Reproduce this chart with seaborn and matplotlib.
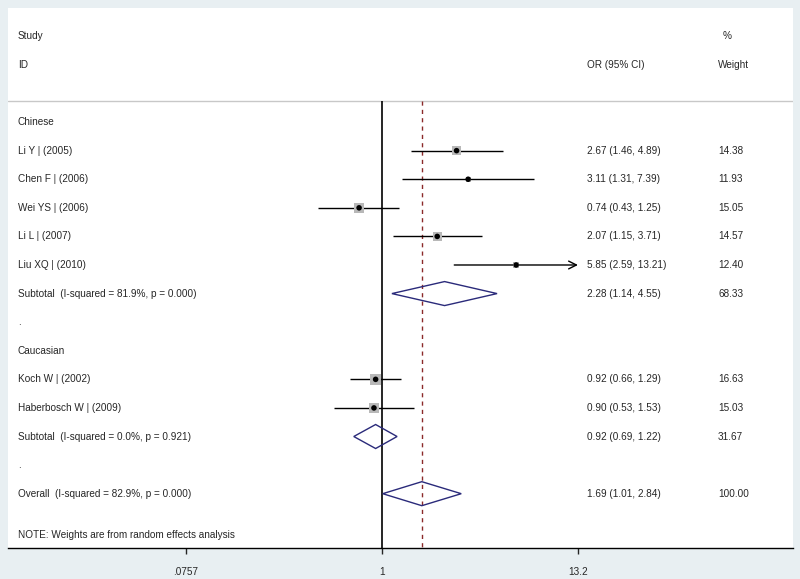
import matplotlib
matplotlib.use("Agg")
import matplotlib.pyplot as plt
import seaborn as sns
import numpy as np
import pandas as pd

# study-level data
studies = ["Li Y", "Chen F", "Wei YS", "Li L", "Liu XQ", "Koch W", "Haberbosch W"]
years = [2005, 2006, 2006, 2007, 2010, 2002, 2009]
odds = [2.67, 3.11, 0.74, 2.07, 5.85, 0.92, 0.90]
ci_lo = [1.46, 1.31, 0.43, 1.15, 2.59, 0.66, 0.53]
ci_hi = [4.89, 7.39, 1.25, 3.71, 13.21, 1.29, 1.53]
weights = [14.38, 11.93, 15.05, 14.57, 12.40, 16.63, 15.03]
study_rows = [1, 2, 3, 4, 5, 9, 10]

# pooled estimates
pooled_labels = ["Subtotal  (I-squared = 81.9%, p = 0.000)",
                 "Subtotal  (I-squared = 0.0%, p = 0.921)",
                 "Overall  (I-squared = 82.9%, p = 0.000)"]
pooled_or = [2.28, 0.92, 1.69]
pooled_lo = [1.14, 0.69, 1.01]
pooled_hi = [4.55, 1.22, 2.84]
pooled_w = [68.33, 31.67, 100.00]
pooled_rows = [6, 11, 13]

groups = ["Chinese", "Caucasian"]
group_rows = [0, 8]
dot_rows = [7, 12]

tick_vals = [0.0757, 1, 13.2]
tick_labels = [".0757", "1", "13.2"]

sns.set_style("white")
plt.rcParams["font.family"] = ["Liberation Sans", "DejaVu Sans"]

fig = plt.figure(figsize=(8, 5.79), dpi=100)
fig.patch.set_facecolor("#e8eff2")
ax = fig.add_axes([8 / 800, 31 / 579, 785 / 800, 540 / 579])
ax.set_facecolor("white")
ax.set_xscale("log")
ax.set_xlim(10 ** -2.138, 10 ** 2.350)
ax.set_ylim(14.9, -3.99)

fs = 7.2
tr = ax.get_yaxis_transform()  # x in axes fraction, y in data
lx, ox, wx = 0.0127, 0.7376, 0.9045

# headers
ax.text(lx, -3, "Study", transform=tr, fontsize=fs, va="center")
ax.text(lx, -2, "ID", transform=tr, fontsize=fs, va="center")
ax.text(ox, -2, "OR (95% CI)", transform=tr, fontsize=fs, va="center")
ax.text(wx + 0.006, -3, "%", transform=tr, fontsize=fs, va="center")
ax.text(wx, -2, "Weight", transform=tr, fontsize=fs, va="center")
ax.axhline(-0.73, color="#c8c8c8", lw=1)

for g, r in zip(groups, group_rows):
    ax.text(lx, r, g, transform=tr, fontsize=fs, va="center")
for r in dot_rows:
    ax.text(lx, r, ".", transform=tr, fontsize=fs, va="center")

df = pd.DataFrame({"study": studies, "year": years, "or": odds, "lo": ci_lo,
                   "hi": ci_hi, "w": weights, "row": study_rows})

# reference lines
ax.vlines(1, -0.73, 14.9, color="black", lw=1.2)
ax.vlines(pooled_or[2], -0.73, 14.9, color="#8b2a2a", lw=1, linestyles=(0, (3, 3)))

for _, d in df.iterrows():
    ax.text(lx, d["row"], f"{d['study']} | ({d['year']})", transform=tr, fontsize=fs, va="center")
    ax.text(ox, d["row"], f"{d['or']:.2f} ({d['lo']:.2f}, {d['hi']:.2f})", transform=tr,
            fontsize=fs, va="center")
    ax.text(wx, d["row"], f"{d['w']:.2f}", transform=tr, fontsize=fs, va="center")
    if d["hi"] > tick_vals[-1]:
        ax.annotate("", xy=(tick_vals[-1], d["row"]), xytext=(d["lo"], d["row"]),
                    arrowprops=dict(arrowstyle="->", lw=1, color="black", mutation_scale=14,
                                    shrinkA=0, shrinkB=0))
    else:
        ax.hlines(d["row"], d["lo"], d["hi"], color="black", lw=1)

sns.scatterplot(data=df, x="or", y="row", size="w", sizes=(14, 70), marker="s",
                color="#b8b8b8", edgecolor="none", legend=False, ax=ax, zorder=3)
sns.scatterplot(data=df, x="or", y="row", marker="o", color="black", s=16,
                edgecolor="none", legend=False, ax=ax, zorder=4)

for lab, o, lo, hi, w, r in zip(pooled_labels, pooled_or, pooled_lo, pooled_hi, pooled_w, pooled_rows):
    h = 0.42
    ax.fill([lo, o, hi, o, lo], [r, r - h, r, r + h, r], facecolor="none",
            edgecolor="#2a2a7a", lw=1, zorder=3)
    ax.text(lx, r, lab, transform=tr, fontsize=fs, va="center")
    ax.text(ox, r, f"{o:.2f} ({lo:.2f}, {hi:.2f})", transform=tr, fontsize=fs, va="center")
    ax.text(wx, r, f"{w:.2f}", transform=tr, fontsize=fs, va="center")

ax.text(lx, 14.45, "NOTE: Weights are from random effects analysis", transform=tr,
        fontsize=fs, va="center")

for s in ["top", "left", "right"]:
    ax.spines[s].set_visible(False)
ax.spines["bottom"].set_color("black")
ax.spines["bottom"].set_linewidth(1)
ax.set_xticks(tick_vals)
ax.set_xticklabels(tick_labels, fontsize=fs)
ax.xaxis.set_minor_locator(matplotlib.ticker.NullLocator())
ax.tick_params(axis="x", direction="out", length=4.5, width=1, pad=9, bottom=True)
ax.set_yticks([])
ax.set_xlabel("")
ax.set_ylabel("")

fig.savefig("out.png", dpi=100, facecolor=fig.get_facecolor())
